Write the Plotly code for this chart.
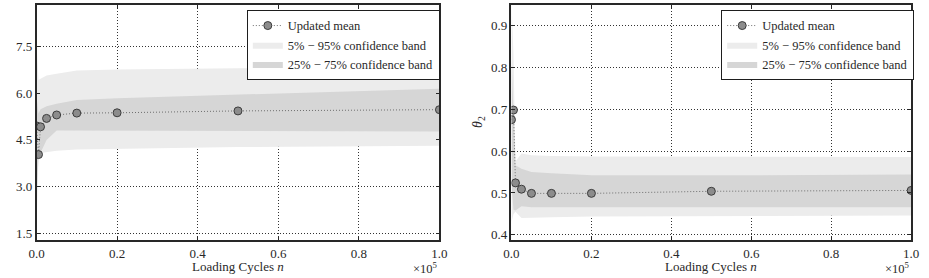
import plotly.graph_objects as go

# ---------------- data ----------------
cycles = [0, 500, 1000, 2500, 5000, 10000, 20000, 50000, 100000]

theta1_mean = [4.95, 4.03, 4.92, 5.19, 5.30, 5.36, 5.37, 5.43, 5.47]
theta1_p05 = [1.60, 4.05, 4.08, 4.12, 4.15, 4.19, 4.22, 4.27, 4.31]
theta1_p95 = [7.60, 6.42, 6.46, 6.57, 6.62, 6.73, 6.76, 6.80, 6.80]
theta1_p25 = [2.60, 3.95, 4.10, 4.50, 4.80, 4.80, 4.79, 4.78, 4.77]
theta1_p75 = [5.90, 5.35, 5.48, 5.58, 5.66, 5.78, 5.84, 5.96, 6.14]

theta2_mean = [0.675, 0.698, 0.524, 0.509, 0.499, 0.499, 0.499, 0.504, 0.506]
theta2_p05 = [0.430, 0.450, 0.455, 0.440, 0.440, 0.442, 0.444, 0.445, 0.446]
theta2_p95 = [0.960, 0.830, 0.575, 0.594, 0.590, 0.588, 0.587, 0.586, 0.586]
theta2_p25 = [0.520, 0.460, 0.458, 0.468, 0.466, 0.466, 0.466, 0.466, 0.466]
theta2_p75 = [0.820, 0.700, 0.566, 0.558, 0.550, 0.547, 0.542, 0.542, 0.544]

x_tickvals = [0, 20000, 40000, 60000, 80000, 100000]
x_ticktext = ["0.0", "0.2", "0.4", "0.6", "0.8", "1.0"]
y1_ticks = [1.5, 3.0, 4.5, 6.0, 7.5]
y1_text = ["1.5", "3.0", "4.5", "6.0", "7.5"]
y2_ticks = [0.4, 0.5, 0.6, 0.7, 0.8, 0.9]
y2_text = ["0.4", "0.5", "0.6", "0.7", "0.8", "0.9"]

legend_names = ["Updated mean", "5% \u2212 95% confidence band", "25% \u2212 75% confidence band"]

# ---------------- style ----------------
FONT = "'Liberation Serif', 'Times New Roman', serif"
LIGHT = "rgb(236,236,236)"
DARK = "rgb(214,214,214)"
MARK = "rgb(140,140,140)"
EDGE = "rgb(60,60,60)"
TXT = "rgb(40,40,40)"

fig = go.Figure()


def add_panel(xa, ya, leg, mean, p05, p95, p25, p75):
    fig.add_trace(go.Scatter(
        x=cycles + cycles[::-1], y=p95 + p05[::-1], fill="toself",
        fillcolor=LIGHT, line=dict(width=0), mode="lines", hoverinfo="skip",
        name=legend_names[1], legend=leg, legendrank=2, xaxis=xa, yaxis=ya))
    fig.add_trace(go.Scatter(
        x=cycles + cycles[::-1], y=p75 + p25[::-1], fill="toself",
        fillcolor=DARK, line=dict(width=0), mode="lines", hoverinfo="skip",
        name=legend_names[2], legend=leg, legendrank=3, xaxis=xa, yaxis=ya))
    fig.add_trace(go.Scatter(
        x=cycles, y=mean, mode="lines+markers", name=legend_names[0],
        line=dict(color="rgb(110,110,110)", width=1, dash="1px,2px"),
        marker=dict(size=8, color=MARK, line=dict(color=EDGE, width=1)),
        legend=leg, legendrank=1, xaxis=xa, yaxis=ya, cliponaxis=True))


add_panel("x", "y", "legend", theta1_mean, theta1_p05, theta1_p95, theta1_p25, theta1_p75)
add_panel("x2", "y2", "legend2", theta2_mean, theta2_p05, theta2_p95, theta2_p25, theta2_p75)

W, H = 929, 278
ydom = [1 - 242 / H, 1 - 5 / H]

axis_common = dict(
    showline=True, linecolor="rgb(40,40,40)", linewidth=1.5, mirror="ticks",
    ticks="inside", ticklen=4, tickcolor="rgb(40,40,40)", tickwidth=1,
    showgrid=True, gridcolor="rgb(50,50,50)", griddash="1px,2px", gridwidth=1,
    zeroline=False, tickfont=dict(family=FONT, size=13, color=TXT),
)

leg_common = dict(xanchor="left", yanchor="top", bgcolor="white",
                  bordercolor="rgb(30,30,30)", borderwidth=1,
                  font=dict(family=FONT, size=12.5, color=TXT), tracegroupgap=0)

fig.update_layout(
    width=W, height=H, margin=dict(l=0, r=0, t=0, b=0),
    paper_bgcolor="white", plot_bgcolor="white",
    font=dict(family=FONT, size=12.5, color=TXT),
    xaxis=dict(domain=[29 / W, 439 / W], range=[0, 100000], anchor="y",
               tickvals=x_tickvals, ticktext=x_ticktext, **axis_common),
    yaxis=dict(domain=ydom, range=[1.28, 8.83], anchor="x",
               tickvals=y1_ticks, ticktext=y1_text, **axis_common),
    xaxis2=dict(domain=[512.3 / W, 919 / W], range=[0, 100000], anchor="y2",
                tickvals=x_tickvals, ticktext=x_ticktext, **axis_common),
    yaxis2=dict(domain=ydom, range=[0.387, 0.949], anchor="x2",
                tickvals=y2_ticks, ticktext=y2_text, **axis_common),
    legend=dict(x=243 / W, y=1 - 10 / H, **leg_common),
    legend2=dict(x=725.7 / W, y=1 - 10 / H, **leg_common),
    showlegend=True,
)

# axis titles and offset text
for xc in [(29 + 439) / 2, (512.3 + 919) / 2]:
    fig.add_annotation(x=xc / W, y=1 - 268 / H, xref="paper", yref="paper",
                       xanchor="center", yanchor="middle",
                       text="Loading Cycles <i>n</i>", showarrow=False,
                       font=dict(family=FONT, size=13, color=TXT))
for xr in [440, 920]:
    fig.add_annotation(x=xr / W, y=1 - 270 / H, xref="paper", yref="paper",
                       xanchor="right", yanchor="middle",
                       text="\u00d710<sup>5</sup>", showarrow=False,
                       font=dict(family=FONT, size=12.5, color=TXT))
fig.add_annotation(x=478 / W, y=1 - 123 / H, xref="paper", yref="paper",
                   xanchor="center", yanchor="middle",
                   text="<i>\u03b8</i><sub>2</sub>", textangle=-90, showarrow=False,
                   font=dict(family=FONT, size=14, color=TXT))

fig.write_html("out.html")
